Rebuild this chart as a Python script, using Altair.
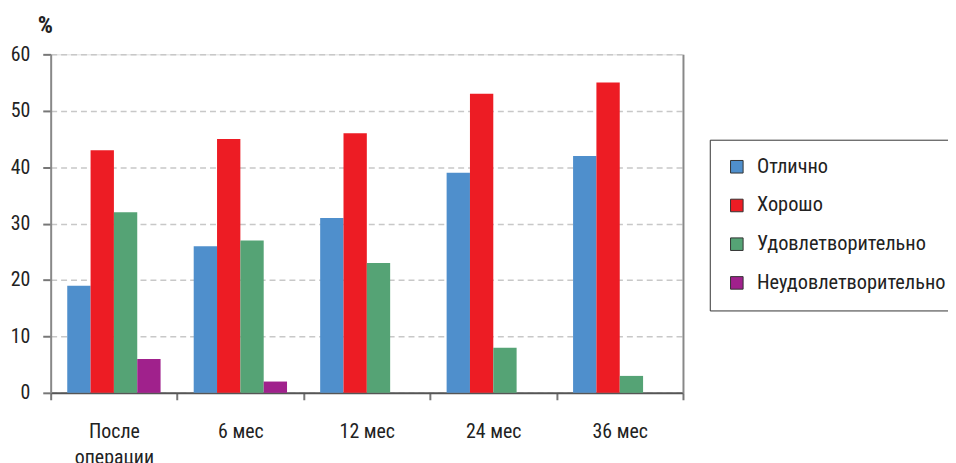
import altair as alt
import pandas as pd

periods = ["После|операции", "6 мес", "12 мес", "24 мес", "36 мес"]
grades = ["Отлично", "Хорошо", "Удовлетворительно", "Неудовлетворительно"]
colors = ["#4F8FCC", "#ED1C24", "#55A375", "#A0218C"]
excellent = [19, 26, 31, 39, 42]
good = [43, 45, 46, 53, 55]
satisfactory = [32, 27, 23, 8, 3]
unsatisfactory = [6, 2, 0, 0, 0]

rows = []
for i, p in enumerate(periods):
    for g, vals in zip(grades, [excellent, good, satisfactory, unsatisfactory]):
        rows.append({"period": p, "grade": g, "value": vals[i]})
df = pd.DataFrame(rows)

FONT = "Roboto Condensed, Roboto, sans-serif"

x = alt.X("period:N", sort=periods, title=None,
          scale=alt.Scale(paddingInner=0, paddingOuter=0),
          axis=alt.Axis(labelAngle=0, tickBand="extent", tickSize=7, tickColor="#777",
                        tickWidth=2, domainColor="#555", domainWidth=2,
                        labelFontSize=20, labelColor="#222", labelPadding=22,
                        labelLineHeight=26, labelBaseline="top",
                        labelExpr="split(datum.label, '|')", labelFont=FONT))
xo = alt.XOffset("grade:N", sort=grades, scale=alt.Scale(paddingInner=0, paddingOuter=0.71))
color = alt.Color("grade:N", sort=grades,
                  scale=alt.Scale(domain=grades, range=colors),
                  legend=alt.Legend(title=None, orient="none", legendX=664, legendY=86,
                                    strokeColor="#333", padding=17, rowPadding=18,
                                    symbolType="square", symbolSize=160,
                                    symbolStrokeColor="#333", symbolStrokeWidth=1,
                                    labelFontSize=20.5, labelColor="#222", labelFont=FONT,
                                    labelOffset=10, labelLimit=0))

bars = alt.Chart(df).mark_bar().encode(
    x=x, xOffset=xo,
    y=alt.Y("value:Q", scale=alt.Scale(domain=[0, 60]),
            axis=alt.Axis(values=[0, 10, 20, 30, 40, 50, 60], title="%",
                          titleAngle=0, titleX=-6, titleY=-29, titleAlign="center",
                          titleBaseline="middle", titleFontSize=24, titleFontWeight="bold",
                          titleColor="#222", titleFont=FONT,
                          labelFontSize=20, labelColor="#222", labelFont=FONT,
                          labelPadding=13, tickSize=8, tickColor="#777", tickWidth=2,
                          domainColor="#888", domainWidth=2,
                          grid=True, gridDash=[6, 4], gridColor="#c8c8c8", gridWidth=1.5)),
    color=color,
)

right = alt.Chart(df).mark_bar(opacity=0).encode(
    x=x, xOffset=xo,
    y=alt.Y("value:Q", scale=alt.Scale(domain=[0, 60]),
            axis=alt.Axis(orient="right", labels=False, ticks=False, grid=False,
                          title=None, domainColor="#888", domainWidth=2)),
)

chart = alt.layer(bars, right).resolve_axis(y="independent").properties(
    width=637, height=341,
    autosize=alt.AutoSizeParams(type="none"),
    padding={"left": 43, "top": 45, "right": 267, "bottom": 69},
).configure_view(stroke=None).configure(font=FONT)

chart.save("out.html", embed_options={"renderer": "svg", "actions": False})
